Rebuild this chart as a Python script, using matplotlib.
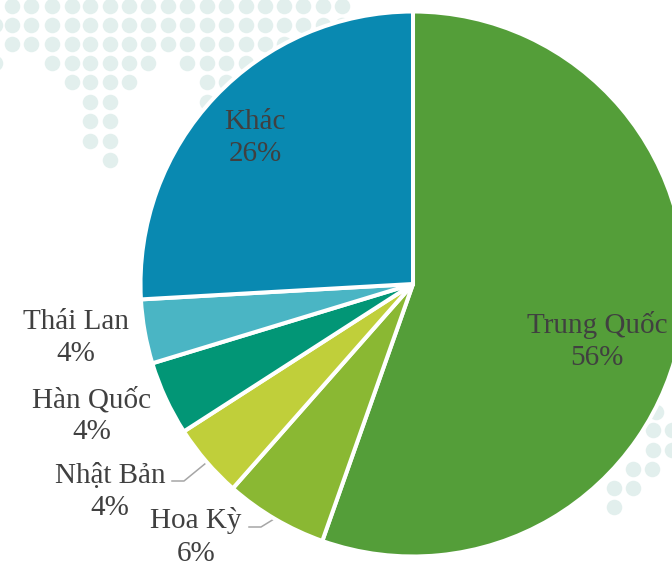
import matplotlib
matplotlib.use('Agg')
import matplotlib.pyplot as plt

# slice data
names = ['Trung Quốc', 'Hoa Kỳ', 'Nhật Bản', 'Hàn Quốc', 'Thái Lan', 'Khác']
shares = [55.4, 6.1, 4.4, 4.4, 3.8, 25.9]
shown_pct = [56, 6, 4, 4, 4, 26]
colors = ['#549E39', '#8AB833', '#C0CF3A', '#029676', '#4AB5C4', '#0989B1']

# faint world map dots in the background (pixel columns per row)
top_cols = [12, 31, 52, 72, 90, 110, 129, 148, 168, 187, 207, 226, 246, 265, 284, 303, 323, 342]
map_rows = {
    6: top_cols,
    25: [-5] + top_cols,
    44: top_cols[:15],
    63: [-5, 52, 72, 90, 110, 129, 148, 187, 207, 226, 246],
    82: [72, 90, 110, 129, 207, 226],
    102: [90, 110, 207],
    121: [90, 110],
    141: [90, 110],
    160: [110],
    412: [656],
    430: [653, 672],
    450: [653, 672],
    469: [633, 652],
    488: [614, 633],
    507: [614],
}

W, H = 672, 563
fig = plt.figure(figsize=(W / 100, H / 100), dpi=100)
ax = fig.add_axes([0, 0, 1, 1])

for row_y, cols in map_rows.items():
    ax.scatter(cols, [H - row_y] * len(cols), s=125, marker='o', color='#E2EFED',
               linewidths=0, zorder=0)

ax.pie(shares, colors=colors, startangle=90, counterclock=False,
       center=(413, H - 284), radius=272.5, frame=True,
       wedgeprops={'edgecolor': 'white', 'linewidth': 2.9, 'zorder': 2})

ax.set_xlim(0, W)
ax.set_ylim(0, H)
ax.axis('off')

# label centres, same order as names
label_x = [597, 196, 110, 92, 76, 255]
label_y = [341, 537, 492, 416, 338, 138]
for name, pct, x, y in zip(names, shown_pct, label_x, label_y):
    ax.text(x, H - y, '%s\n%d%%' % (name, pct), ha='center', va='center',
            family='Liberation Serif', fontsize=21, color='#404040',
            linespacing=1.32, zorder=3)

# leader lines
ax.plot([172, 184, 206], [H - 481, H - 481, H - 463], color='#A6A6A6', lw=1.1, zorder=1)
ax.plot([249, 261, 274], [H - 527, H - 527, H - 519], color='#A6A6A6', lw=1.1, zorder=1)

fig.savefig('out.png', dpi=100)
